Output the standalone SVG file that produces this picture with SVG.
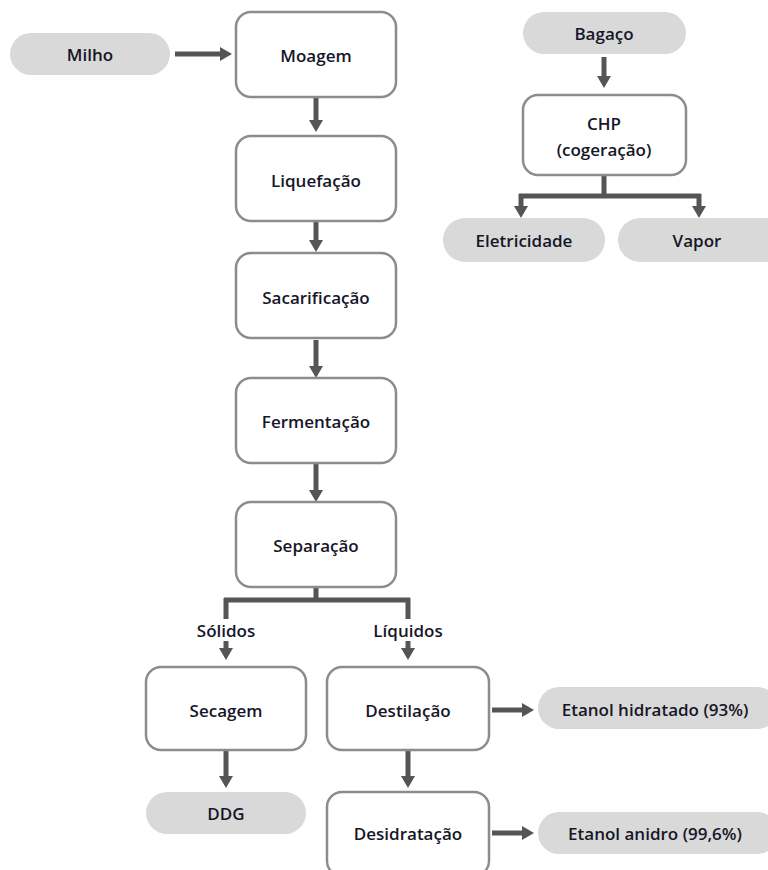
<svg xmlns="http://www.w3.org/2000/svg" width="768" height="870" viewBox="0 0 768 870">
<style>
.box{fill:#fff;stroke:#8c8c8c;stroke-width:2.5}
.pill{fill:#d9d9d9;stroke:none}
.t{font-family:"Open Sans","Liberation Sans",sans-serif;font-weight:600;font-size:17px;fill:#161628;text-anchor:middle;dominant-baseline:central}
.c{fill:none;stroke:#555;stroke-width:5}
</style>
<defs>
<marker id="ah" markerUnits="userSpaceOnUse" markerWidth="14" markerHeight="14" refX="0" refY="7" orient="auto" viewBox="0 0 14 14">
<path d="M0,0 L12,7 L0,14 Z" fill="#555"/>
</marker>
</defs>
<rect width="768" height="870" fill="#fff"/>
<g id="connectors">
<path class="c" d="M175,54 H220" marker-end="url(#ah)"/>
<path class="c" d="M316,98 V120" marker-end="url(#ah)"/>
<path class="c" d="M316,222 V240" marker-end="url(#ah)"/>
<path class="c" d="M316,340 V366" marker-end="url(#ah)"/>
<path class="c" d="M316,464 V490" marker-end="url(#ah)"/>
<path class="c" d="M316,588 V600 M224,600 H410"/>
<path class="c" d="M226,598 V619 M408,598 V619"/>
<path class="c" d="M226,641 V648" marker-end="url(#ah)"/>
<path class="c" d="M408,641 V648" marker-end="url(#ah)"/>
<path class="c" d="M226,750 V776" marker-end="url(#ah)"/>
<path class="c" d="M408,750 V776" marker-end="url(#ah)"/>
<path class="c" d="M492,710 H522" marker-end="url(#ah)"/>
<path class="c" d="M492,833 H522" marker-end="url(#ah)"/>
<path class="c" d="M604,57 V76" marker-end="url(#ah)"/>
<path class="c" d="M604,176 V196 M519,196 H701"/>
<path class="c" d="M521,194 V206" marker-end="url(#ah)"/>
<path class="c" d="M699,194 V206" marker-end="url(#ah)"/>
</g>
<g id="milho"><rect class="pill" x="10" y="33" width="160" height="42" rx="21"/><text class="t" x="90" y="54">Milho</text></g>
<g id="moagem"><rect class="box" x="236" y="12" width="160" height="85" rx="15"/><text class="t" x="316" y="55">Moagem</text></g>
<g id="liquefacao"><rect class="box" x="236" y="136" width="160" height="85" rx="15"/><text class="t" x="316" y="180">Liquefação</text></g>
<g id="sacarificacao"><rect class="box" x="236" y="253" width="160" height="85" rx="15"/><text class="t" x="316" y="297">Sacarificação</text></g>
<g id="fermentacao"><rect class="box" x="236" y="378" width="160" height="85" rx="15"/><text class="t" x="316" y="421">Fermentação</text></g>
<g id="separacao"><rect class="box" x="236" y="502" width="160" height="85" rx="15"/><text class="t" x="316" y="545">Separação</text></g>
<g id="label-solidos"><text class="t" x="226" y="630">Sólidos</text></g>
<g id="label-liquidos"><text class="t" x="408" y="630">Líquidos</text></g>
<g id="secagem"><rect class="box" x="146" y="667" width="160" height="83" rx="15"/><text class="t" x="226" y="710">Secagem</text></g>
<g id="destilacao"><rect class="box" x="327" y="667" width="162" height="83" rx="15"/><text class="t" x="408" y="710">Destilação</text></g>
<g id="ddg"><rect class="pill" x="146" y="792" width="160" height="42" rx="21"/><text class="t" x="226" y="813">DDG</text></g>
<g id="desidratacao"><rect class="box" x="327" y="792" width="162" height="84" rx="15"/><text class="t" x="408" y="833">Desidratação</text></g>
<g id="etanol-hidratado"><rect class="pill" x="538" y="687" width="240" height="42" rx="21"/><text class="t" x="655" y="709">Etanol hidratado (93%)</text></g>
<g id="etanol-anidro"><rect class="pill" x="538" y="812" width="240" height="42" rx="21"/><text class="t" x="655" y="833">Etanol anidro (99,6%)</text></g>
<g id="bagaco"><rect class="pill" x="523" y="12" width="163" height="42" rx="21"/><text class="t" x="604" y="33">Bagaço</text></g>
<g id="chp"><rect class="box" x="523" y="95" width="163" height="80" rx="15"/><text class="t" x="604" y="123">CHP</text><text class="t" x="604" y="149">(cogeração)</text></g>
<g id="eletricidade"><rect class="pill" x="443" y="218" width="162" height="44" rx="22"/><text class="t" x="524" y="240">Eletricidade</text></g>
<g id="vapor"><rect class="pill" x="618" y="218" width="170" height="44" rx="22"/><text class="t" x="697" y="240">Vapor</text></g>
</svg>
